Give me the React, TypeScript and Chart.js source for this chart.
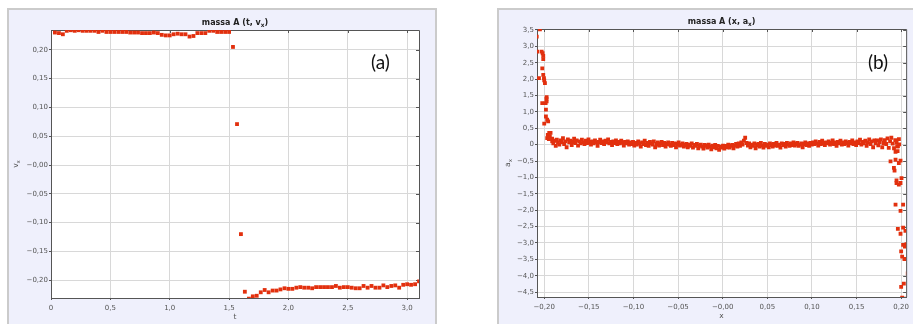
import { useEffect, useRef } from "react";
import { Chart, registerables } from "chart.js";

Chart.register(...registerables);

// ---- panel (a): velocity of mass A over time ----
const timeS = [
  0.033, 0.067, 0.1, 0.133, 0.167, 0.2, 0.233, 0.267, 0.3, 0.333,
  0.367, 0.4, 0.433, 0.467, 0.5, 0.533, 0.567, 0.6, 0.633, 0.667,
  0.7, 0.733, 0.767, 0.8, 0.833, 0.867, 0.9, 0.933, 0.967, 1.0,
  1.033, 1.067, 1.1, 1.133, 1.167, 1.2, 1.233, 1.267, 1.3, 1.333,
  1.367, 1.4, 1.433, 1.467, 1.5, 1.533, 1.567, 1.6, 1.633, 1.667,
  1.7, 1.733, 1.767, 1.8, 1.833, 1.867, 1.9, 1.933, 1.967, 2.0,
  2.033, 2.067, 2.1, 2.133, 2.167, 2.2, 2.233, 2.267, 2.3, 2.333,
  2.367, 2.4, 2.433, 2.467, 2.5, 2.533, 2.567, 2.6, 2.633, 2.667,
  2.7, 2.733, 2.767, 2.8, 2.833, 2.867, 2.9, 2.933, 2.967, 3.0,
  3.033, 3.067, 3.1,
];

const velocityX = [
  0.23, 0.229, 0.227, 0.233, 0.234, 0.233, 0.234, 0.233, 0.233, 0.233,
  0.233, 0.231, 0.233, 0.231, 0.231, 0.231, 0.231, 0.231, 0.231, 0.23,
  0.23, 0.23, 0.229, 0.229, 0.229, 0.23, 0.229, 0.226, 0.225, 0.225,
  0.227, 0.228, 0.227, 0.227, 0.223, 0.224, 0.229, 0.229, 0.229, 0.233,
  0.233, 0.231, 0.231, 0.231, 0.231, 0.205, 0.071, -0.12, -0.22, -0.232,
  -0.228, -0.227, -0.221, -0.217, -0.221, -0.218, -0.218, -0.216, -0.214, -0.215,
  -0.215, -0.213, -0.212, -0.213, -0.213, -0.214, -0.212, -0.212, -0.212, -0.212,
  -0.212, -0.21, -0.213, -0.212, -0.212, -0.213, -0.214, -0.214, -0.21, -0.213,
  -0.21, -0.213, -0.213, -0.209, -0.212, -0.21, -0.209, -0.213, -0.208, -0.207,
  -0.208, -0.207, -0.202,
];

const timeTicks = [0, 0.5, 1.0, 1.5, 2.0, 2.5, 3.0];
const timeTickLabels = ["0", "0,5", "1,0", "1,5", "2,0", "2,5", "3,0"];
const velocityTicks = [0.2, 0.15, 0.1, 0.05, 0, -0.05, -0.1, -0.15, -0.2];
const velocityTickLabels = ["0,20", "0,15", "0,10", "0,05", "\u22120,00", "\u22120,05", "\u22120,10", "\u22120,15", "\u22120,20"];

// ---- panel (b): acceleration of mass A against position ----
// start of the run, pushed off the left end
const startX = [
  -0.2084, -0.2048, -0.2078, -0.2029, -0.2018, -0.2011, -0.2011, -0.2022, -0.2059, -0.2003,
  -0.2011, -0.2, -0.1992, -0.2022, -0.1984, -0.1973, -0.1973, -0.1975, -0.1981, -0.1981,
  -0.1967, -0.1956, -0.2, -0.1944, -0.1929, -0.196, -0.1967, -0.1937, -0.1948, -0.1952,
  -0.1911,
];
const startA = [
  3.3, 3.52, 2.84, 2.84, 2.79, 2.71, 2.61, 2.33, 2.03, 2.03,
  2.13, 1.96, 1.88, 1.27, 1.27, 1.45, 1.32, 1.4, 1.07, 0.86,
  0.76, 0.71, 0.64, 0.36, 0.36, 0.3, 0.2, 0.25, 0.17, 0.22,
  0.1,
];

// free glide along the track
const bandX = [
  -0.1912, -0.1898, -0.1885, -0.1871, -0.186, -0.1846, -0.1831, -0.1819, -0.1803, -0.179,
  -0.1777, -0.1762, -0.1749, -0.1735, -0.172, -0.1706, -0.1692, -0.1678, -0.1665, -0.1651,
  -0.1636, -0.1621, -0.1607, -0.1592, -0.1578, -0.1563, -0.1549, -0.1535, -0.152, -0.1504,
  -0.149, -0.1476, -0.1461, -0.1447, -0.1431, -0.1416, -0.1402, -0.1388, -0.1373, -0.1357,
  -0.1343, -0.1329, -0.1313, -0.1298, -0.1284, -0.127, -0.1255, -0.124, -0.1226, -0.121,
  -0.1196, -0.1181, -0.1167, -0.1152, -0.1137, -0.1122, -0.1108, -0.1094, -0.1079, -0.1064,
  -0.1049, -0.1035, -0.102, -0.1005, -0.0991, -0.0976, -0.0962, -0.0947, -0.0932, -0.0918,
  -0.0903, -0.0888, -0.0874, -0.086, -0.0845, -0.083, -0.0815, -0.0801, -0.0786, -0.0772,
  -0.0757, -0.0742, -0.0728, -0.0713, -0.0698, -0.0684, -0.0669, -0.0655, -0.064, -0.0625,
  -0.0611, -0.0596, -0.0581, -0.0567, -0.0552, -0.0538, -0.0523, -0.0508, -0.0494, -0.0479,
  -0.0464, -0.045, -0.0435, -0.0421, -0.0406, -0.0391, -0.0377, -0.0362, -0.0347, -0.0333,
  -0.0318, -0.0304, -0.0289, -0.0274, -0.026, -0.0245, -0.023, -0.0216, -0.0201, -0.0187,
  -0.0172, -0.0157, -0.0143, -0.0128, -0.0113, -0.0099, -0.0084, -0.007, -0.0055, -0.004,
  -0.0026, -0.0011, 0.0004, 0.0018, 0.0033, 0.0048, 0.0062, 0.0077, 0.0092, 0.0106,
  0.0121, 0.0135, 0.015, 0.0165, 0.0179, 0.0194, 0.0209, 0.0223, 0.0238, 0.0252,
  0.0267, 0.0282, 0.0296, 0.0311, 0.0326, 0.034, 0.0355, 0.0369, 0.0384, 0.0399,
  0.0413, 0.0428, 0.0443, 0.0457, 0.0472, 0.0486, 0.0501, 0.0516, 0.053, 0.0545,
  0.056, 0.0574, 0.0589, 0.0603, 0.0618, 0.0633, 0.0647, 0.0662, 0.0677, 0.0691,
  0.0706, 0.072, 0.0735, 0.075, 0.0764, 0.0779, 0.0794, 0.0808, 0.0823, 0.0837,
  0.0852, 0.0867, 0.0881, 0.0896, 0.0911, 0.0925, 0.094, 0.0954, 0.0969, 0.0984,
  0.0998, 0.1013, 0.1028, 0.1042, 0.1057, 0.1071, 0.1086, 0.1101, 0.1115, 0.113,
  0.1145, 0.1159, 0.1174, 0.1188, 0.1203, 0.1218, 0.1232, 0.1247, 0.1262, 0.1276,
  0.1291, 0.1305, 0.132, 0.1335, 0.1349, 0.1364, 0.1379, 0.1393, 0.1408, 0.1422,
  0.1437, 0.1452, 0.1466, 0.1481, 0.1496, 0.151, 0.1525, 0.1539, 0.1554, 0.1569,
  0.1583, 0.1598, 0.1613, 0.1627, 0.1642, 0.1656, 0.1671, 0.1686, 0.17, 0.1715,
  0.173, 0.1744, 0.1759, 0.1773, 0.1788, 0.1803, 0.1817, 0.1832, 0.1847, 0.1861,
  0.1876, 0.189, 0.1905, 0.192, 0.1934, 0.1949, 0.1964, 0.1978, 0.1975,
];
const bandA = [
  0.18, 0.04, 0.12, -0.04, 0.15, 0.07, 0.0, 0.13, 0.08, 0.2,
  0.02, 0.1, -0.08, 0.16, 0.07, 0.12, -0.01, 0.08, 0.18, 0.05,
  0.13, -0.03, 0.1, 0.04, 0.15, 0.07, 0.02, 0.12, 0.05, 0.16,
  0.08, 0.0, 0.1, 0.04, 0.13, 0.07, -0.04, 0.08, 0.15, 0.05,
  0.1, 0.02, 0.12, 0.07, 0.16, 0.04, 0.08, -0.01, 0.1, 0.05,
  0.13, 0.02, 0.08, 0.04, 0.12, 0.07, -0.03, 0.08, 0.04, 0.1,
  0.0, 0.07, 0.02, 0.08, -0.03, 0.05, 0.0, 0.1, 0.04, -0.06,
  0.07, 0.02, 0.12, -0.01, 0.05, -0.04, 0.08, 0.04, 0.0, 0.1,
  -0.08, 0.02, 0.07, -0.03, 0.04, 0.08, -0.01, 0.05, -0.06, 0.02,
  0.07, 0.0, -0.04, 0.05, -0.01, 0.04, -0.08, 0.02, 0.07, -0.03,
  0.0, 0.04, -0.06, -0.01, 0.02, -0.08, 0.0, -0.04, 0.04, -0.09,
  -0.01, -0.04, 0.02, -0.11, -0.03, 0.0, -0.06, -0.12, -0.01, -0.04,
  -0.09, 0.0, -0.06, -0.14, -0.03, -0.08, -0.01, -0.11, -0.04, -0.16,
  -0.06, -0.09, -0.03, -0.12, -0.04, -0.08, 0.0, -0.09, -0.04, -0.01,
  -0.11, -0.03, 0.02, -0.06, 0.04, -0.04, 0.07, 0.0, 0.12, 0.21,
  0.05, -0.03, 0.04, -0.08, 0.0, -0.04, 0.04, -0.11, -0.01, 0.02,
  -0.06, 0.05, -0.03, -0.09, 0.02, -0.04, 0.0, -0.08, 0.04, -0.01,
  -0.06, 0.02, -0.03, 0.05, -0.04, 0.0, -0.09, 0.04, -0.01, 0.02,
  -0.06, 0.05, 0.0, -0.04, 0.04, -0.01, 0.07, -0.03, 0.02, 0.05,
  -0.04, 0.0, 0.04, -0.08, 0.02, 0.07, -0.01, 0.04, -0.04, 0.05,
  0.0, 0.07, 0.02, 0.1, 0.04, -0.03, 0.08, 0.02, 0.12, 0.05,
  -0.01, 0.07, 0.04, 0.1, 0.0, 0.05, 0.13, 0.02, 0.07, -0.04,
  0.08, 0.04, 0.12, 0.0, 0.07, 0.02, 0.1, 0.05, -0.03, 0.08,
  0.04, 0.13, 0.02, 0.07, -0.01, 0.1, 0.05, 0.15, 0.0, 0.08,
  0.04, 0.12, -0.04, 0.07, 0.16, 0.02, 0.1, -0.08, 0.13, 0.04,
  0.13, -0.02, 0.08, 0.16, -0.08, 0.05, 0.14, 0.02, 0.19, -0.1,
  0.1, 0.21, 0.03, -0.11, 0.14, 0.06, -0.05, 0.01, 0.17,
];

// impact at the right end of the track
const impactX = [
  0.1881, 0.1937, 0.1974, 0.1993, 0.1919, 0.1926, 0.2004, 0.1948, 0.1948, 0.1974,
  0.1993, 0.1937, 0.2022, 0.1993, 0.1963, 0.2022, 0.2048, 0.1993, 0.2022, 0.2059,
  0.2041, 0.2, 0.2011, 0.2037, 0.2074, 0.203, 0.2, 0.2011, 0.2041, 0.1937,
  0.1955, 0.196,
];
const impactA = [
  -0.51, -0.46, -0.56, -0.49, -0.71, -0.79, -1.02, -1.09, -1.17, -1.22,
  -1.17, -1.83, -1.83, -2.02, -2.57, -2.53, -2.63, -2.72, -3.06, -3.04,
  -3.11, -3.26, -3.42, -3.49, -3.93, -4.24, -4.34, -4.67, -4.7, -0.22,
  -0.05, -0.2,
];

const positionTicks = [-0.2, -0.15, -0.1, -0.05, 0, 0.05, 0.1, 0.15, 0.2];
const positionTickLabels = ["\u22120,20", "\u22120,15", "\u22120,10", "\u22120,05", "\u22120,00", "0,05", "0,10", "0,15", "0,20"];
const accelTicks = [3.5, 3.0, 2.5, 2.0, 1.5, 1.0, 0.5, 0, -0.5, -1.0, -1.5, -2.0, -2.5, -3.0, -3.5, -4.0, -4.5];
const accelTickLabels = ["3,5", "3,0", "2,5", "2,0", "1,5", "1,0", "0,5", "0", "\u22120,5", "\u22121,0", "\u22121,5", "\u22122,0", "\u22122,5", "\u22123,0", "\u22123,5", "\u22124,0", "\u22124,5"];

const MARK = "#e2300e";
const FRAME = "#555555";
const GRID = "#d8d8d8";
const TICK_FONT = "DejaVu Sans";

type Part = { text: string; sub?: boolean };

function drawRich(ctx: CanvasRenderingContext2D, parts: Part[], x: number, y: number, size: number, weight: string, color: string) {
  const mainFont = `${weight} ${size}px "${TICK_FONT}"`;
  const subFont = `${weight} ${size * 0.72}px "${TICK_FONT}"`;
  const widths = parts.map((p) => {
    ctx.font = p.sub ? subFont : mainFont;
    return ctx.measureText(p.text).width;
  });
  const total = widths.reduce((s, w) => s + w, 0);
  let cx = x - total / 2;
  ctx.fillStyle = color;
  ctx.textAlign = "left";
  ctx.textBaseline = "alphabetic";
  parts.forEach((p, i) => {
    ctx.font = p.sub ? subFont : mainFont;
    ctx.fillText(p.text, cx, p.sub ? y + size * 0.28 : y);
    cx += widths[i];
  });
}

type PanelOpts = {
  title: Part[];
  xTitle: Part[];
  yTitle: Part[];
  yTitleX: number;
  tag: string;
  tagX: number;
  tagY: number;
};

const panelPlugin = {
  id: "panel",
  beforeDraw(chart: any) {
    const { ctx, chartArea: a } = chart;
    ctx.save();
    ctx.fillStyle = "#ffffff";
    ctx.fillRect(a.left, a.top, a.right - a.left, a.bottom - a.top);
    ctx.restore();
  },
  beforeDatasetsDraw(chart: any) {
    const { ctx, chartArea: a, scales } = chart;
    ctx.save();
    ctx.strokeStyle = FRAME;
    ctx.lineWidth = 1;
    ctx.beginPath();
    ctx.moveTo(a.left, a.top + 0.5);
    ctx.lineTo(a.right + 0.5, a.top + 0.5);
    ctx.lineTo(a.right + 0.5, a.bottom);
    // inward ticks along the top and right edges
    scales.x.ticks.forEach((t: any) => {
      const px = Math.round(scales.x.getPixelForValue(t.value)) + 0.5;
      ctx.moveTo(px, a.top);
      ctx.lineTo(px, a.top + 3);
    });
    scales.y.ticks.forEach((t: any) => {
      const py = Math.round(scales.y.getPixelForValue(t.value)) + 0.5;
      ctx.moveTo(a.right, py);
      ctx.lineTo(a.right - 3, py);
    });
    ctx.stroke();
    ctx.restore();
  },
  afterDraw(chart: any, _args: any, opts: PanelOpts) {
    const { ctx, chartArea: a } = chart;
    const cx = (a.left + a.right) / 2;
    const cy = (a.top + a.bottom) / 2;
    ctx.save();
    drawRich(ctx, opts.title, cx, a.top - 5.5, 8, "bold", "#222222");
    drawRich(ctx, opts.xTitle, cx, a.bottom + 21, 7.5, "normal", "#555555");
    ctx.translate(opts.yTitleX, cy);
    ctx.rotate(-Math.PI / 2);
    drawRich(ctx, opts.yTitle, 0, 2.5, 7.5, "normal", "#555555");
    ctx.restore();
    ctx.save();
    ctx.fillStyle = "#111111";
    ctx.font = '19px "Lato"';
    ctx.textAlign = "center";
    ctx.textBaseline = "middle";
    ctx.fillText(opts.tag, opts.tagX, opts.tagY);
    ctx.restore();
  },
};

type AxisSpec = {
  min: number;
  max: number;
  values: number[];
  labels: string[];
  size: number;
};

function axis(spec: AxisSpec, horizontal: boolean) {
  return {
    type: "linear",
    position: horizontal ? "bottom" : "left",
    min: spec.min,
    max: spec.max,
    afterBuildTicks: (scale: any) => {
      scale.ticks = spec.values.map((value) => ({ value }));
    },
    afterFit: (scale: any) => {
      if (horizontal) scale.height = spec.size;
      else scale.width = spec.size;
    },
    grid: {
      color: GRID,
      lineWidth: 1,
      drawTicks: true,
      tickLength: 2,
      tickColor: FRAME,
    },
    border: { display: true, color: FRAME, width: 1 },
    ticks: {
      autoSkip: false,
      maxRotation: 0,
      padding: horizontal ? 4 : 1,
      color: "#555555",
      font: { family: TICK_FONT, size: 7 },
      callback: (_v: any, i: number) => spec.labels[i],
    },
  };
}

type ChartSpec = {
  points: { x: number; y: number }[];
  x: AxisSpec;
  y: AxisSpec;
  padding: { left: number; top: number; right: number; bottom: number };
  panel: PanelOpts;
};

function ScatterPanel({ spec, width, height }: { spec: ChartSpec; width: number; height: number }) {
  const ref = useRef<HTMLCanvasElement | null>(null);
  useEffect(() => {
    if (!ref.current) return;
    const chart = new Chart(ref.current, {
      type: "scatter",
      data: {
        datasets: [
          {
            data: spec.points,
            pointStyle: "rect",
            pointRadius: 2.7,
            pointBorderWidth: 0,
            backgroundColor: MARK,
            borderColor: MARK,
            showLine: false,
          },
        ],
      },
      options: {
        animation: false,
        responsive: false,
        devicePixelRatio: 1,
        events: [],
        layout: { padding: spec.padding },
        scales: {
          x: axis(spec.x, true) as any,
          y: axis(spec.y, false) as any,
        },
        plugins: {
          legend: { display: false },
          tooltip: { enabled: false },
          title: { display: false },
          panel: spec.panel,
        } as any,
      },
      plugins: [panelPlugin],
    });
    return () => chart.destroy();
  }, [spec]);
  return <canvas ref={ref} width={width} height={height} style={{ display: "block" }} />;
}

const velocitySpec: ChartSpec = {
  points: timeS.map((t, i) => ({ x: t, y: velocityX[i] })),
  x: { min: 0, max: 3.1, values: timeTicks, labels: timeTickLabels, size: 28 },
  y: { min: -0.2309, max: 0.2344, values: velocityTicks, labels: velocityTickLabels, size: 42 },
  padding: { left: 0, top: 20, right: 16, bottom: 0 },
  panel: {
    title: [{ text: "massa A (t, v" }, { text: "x", sub: true }, { text: ")" }],
    xTitle: [{ text: "t" }],
    yTitle: [{ text: "v" }, { text: "x", sub: true }],
    yTitleX: 6,
    tag: "(a)",
    tagX: 371.5,
    tagY: 53,
  },
};

const accelSpec: ChartSpec = {
  points: [
    ...startX.map((x, i) => ({ x, y: startA[i] })),
    ...bandX.map((x, i) => ({ x, y: bandA[i] })),
    ...impactX.map((x, i) => ({ x, y: impactA[i] })),
  ],
  x: { min: -0.2081, max: 0.2056, values: positionTicks, labels: positionTickLabels, size: 29 },
  y: { min: -4.65, max: 3.53, values: accelTicks, labels: accelTickLabels, size: 38 },
  padding: { left: 0, top: 19, right: 4, bottom: 0 },
  panel: {
    title: [{ text: "massa A (x, a" }, { text: "x", sub: true }, { text: ")" }],
    xTitle: [{ text: "x" }],
    yTitle: [{ text: "a" }, { text: "x", sub: true }],
    yTitleX: 8,
    tag: "(b)",
    tagX: 379,
    tagY: 53,
  },
};

const panelStyle = (left: number, width: number): React.CSSProperties => ({
  position: "absolute",
  left,
  top: 8,
  width,
  height: 330,
  background: "#eff0fc",
  border: "2px solid #cbcbcb",
  boxSizing: "content-box",
});

export default function App() {
  return (
    <div
      style={{
        position: "absolute",
        left: 0,
        top: 0,
        width: 913,
        height: 324,
        overflow: "hidden",
        background: "#ffffff",
      }}
    >
      <div style={panelStyle(7, 426)}>
        <ScatterPanel spec={velocitySpec} width={426} height={316} />
      </div>
      <div style={panelStyle(497, 420)}>
        <ScatterPanel spec={accelSpec} width={414} height={316} />
      </div>
    </div>
  );
}
